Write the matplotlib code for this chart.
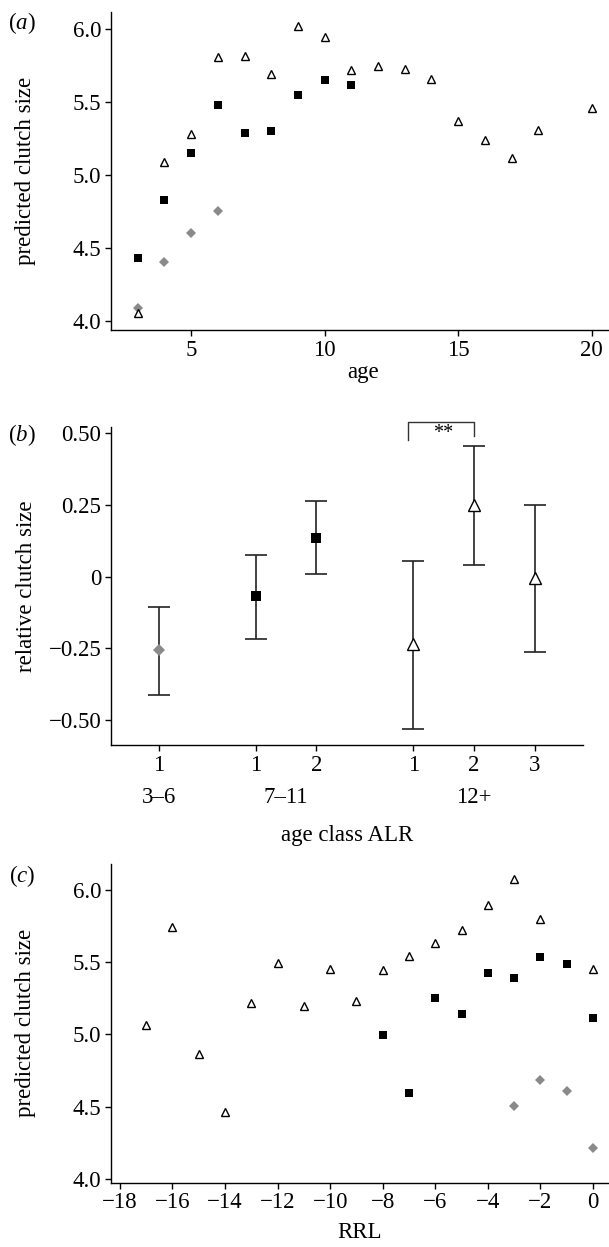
import numpy as np
import matplotlib
matplotlib.use("Agg")
import matplotlib.pyplot as plt

plt.rcParams['font.family'] = ['Liberation Serif', 'DejaVu Serif']
plt.rcParams['mathtext.fontset'] = 'custom'
plt.rcParams['mathtext.rm'] = 'Liberation Serif'
plt.rcParams['mathtext.it'] = 'Liberation Serif:italic'
plt.rcParams['axes.unicode_minus'] = True

# ---- data ----
# (a) predicted clutch size by age
age_tri = [3, 4, 5, 6, 7, 8, 9, 10, 11, 12, 13, 14, 15, 16, 17, 18, 20]
clutch_tri = [4.05, 5.09, 5.28, 5.81, 5.82, 5.69, 6.02, 5.95, 5.72, 5.75, 5.73, 5.66, 5.37, 5.24, 5.12, 5.31, 5.46]
age_sq = [3, 4, 5, 6, 7, 8, 9, 10, 11]
clutch_sq = [4.43, 4.83, 5.15, 5.48, 5.29, 5.30, 5.55, 5.65, 5.62]
age_dia = [3, 4, 5, 6]
clutch_dia = [4.09, 4.40, 4.60, 4.75]

# (b) relative clutch size by age class and ALR
alr_labels = ['1', '1', '2', '1', '2', '3']
alr_pos = [1, 2.6, 3.6, 5.2, 6.2, 7.2]
group_labels = ['3–6', '7–11', '12+']
group_pos = [1, 3.1, 6.2]
rel_mean = [-0.257, -0.069, 0.135, -0.234, 0.25, -0.005]
rel_low = [-0.412, -0.216, 0.010, -0.530, 0.041, -0.263]
rel_high = [-0.105, 0.077, 0.264, 0.056, 0.455, 0.249]
rel_kind = ['dia', 'sq', 'sq', 'tri', 'tri', 'tri']

# (c) predicted clutch size by RRL
rrl_tri = [-17, -16, -15, -14, -13, -12, -11, -10, -9, -8, -7, -6, -5, -4, -3, -2, 0]
rrl_clutch_tri = [5.067, 5.745, 4.868, 4.465, 5.22, 5.495, 5.197, 5.454, 5.234, 5.447, 5.542, 5.63, 5.725, 5.894, 6.076, 5.796, 5.454]
rrl_sq = [-8, -7, -6, -5, -4, -3, -2, -1, 0]
rrl_clutch_sq = [4.993, 4.597, 5.25, 5.139, 5.426, 5.389, 5.535, 5.491, 5.116]
rrl_dia = [-3, -2, -1, 0]
rrl_clutch_dia = [4.505, 4.685, 4.606, 4.215]

GREY = '#8a8a8a'
FS = 16.5
W, H = 609, 1247

fig = plt.figure(figsize=(W / 100, H / 100), dpi=100)


def px_axes(left, right, top, bottom):
    return fig.add_axes([left / W, 1 - bottom / H, (right - left) / W, (bottom - top) / H])


def style(ax):
    for s in ['top', 'right']:
        ax.spines[s].set_visible(False)
    for s in ['left', 'bottom']:
        ax.spines[s].set_linewidth(1.0)
    ax.tick_params(direction='out', length=4, width=1, labelsize=FS, pad=3)


def scatter3(ax, xt, yt, xs, ys, xd, yd, ms=6.0):
    ax.plot(xd, yd, 'D', color=GREY, ms=ms * 0.8, mew=0, zorder=2)
    ax.plot(xs, ys, 's', color='black', ms=ms * 0.95, mew=0, zorder=3)
    ax.plot(xt, yt, '^', mfc='white', mec='black', ms=ms, mew=1.0, zorder=4)


# ---- panel a ----
ax1 = px_axes(111, 609, 11.7, 330)
style(ax1)
scatter3(ax1, age_tri, clutch_tri, age_sq, clutch_sq, age_dia, clutch_dia)
ax1.set_xlim(2.0, 20.65)
ax1.set_ylim(3.936, 6.121)
ax1.set_xticks([5, 10, 15, 20])
ax1.set_yticks([4.0, 4.5, 5.0, 5.5, 6.0])
ax1.set_yticklabels(['4.0', '4.5', '5.0', '5.5', '6.0'])
fig.text(363 / W, 1 - 373 / H, 'age', ha='center', va='center', fontsize=FS)
fig.text(26 / W, 1 - 171 / H, 'predicted clutch size', rotation=90, ha='center', va='center', fontsize=FS)
fig.text(21.7 / W, 1 - 23.3 / H, r'($\it{a}$)', ha='center', va='center', fontsize=FS)

# ---- panel b ----
ax2 = px_axes(111, 583, 426.7, 745)
style(ax2)
for x, m, lo, hi, k in zip(alr_pos, rel_mean, rel_low, rel_high, rel_kind):
    if k == 'dia':
        fmt = dict(marker='D', color=GREY, ms=6.5, mew=0)
    elif k == 'sq':
        fmt = dict(marker='s', color='black', ms=7.5, mew=0)
    else:
        fmt = dict(marker='^', mfc='white', mec='black', ms=8.5, mew=1.0)
    ax2.errorbar([x], [m], yerr=[[m - lo], [hi - m]], fmt='none', ecolor='#222222',
                 elinewidth=1.2, capsize=8, capthick=1.2, zorder=2)
    ax2.plot([x], [m], linestyle='none', zorder=3, **fmt)
ax2.set_xlim(0.208, 8.0)
ax2.set_ylim(-0.587, 0.523)
ax2.set_xticks(alr_pos)
ax2.set_xticklabels(alr_labels)
ax2.set_yticks([-0.5, -0.25, 0, 0.25, 0.5])
ax2.set_yticklabels(['\u22120.50', '\u22120.25', '0', '0.25', '0.50'])
for gx, gl in zip(group_pos, group_labels):
    ax2.text(gx, -0.587 - (798 - 745) / 286.8, gl, ha='center', va='center', fontsize=FS)
ax2.plot([5.114, 5.114, 6.2, 6.2], [0.477, 0.540, 0.540, 0.49], color='#333333', lw=1.0,
         clip_on=False)
ax2.text(5.686, 0.501, '**', ha='center', va='center', fontsize=FS - 2)
fig.text(347 / W, 1 - 836 / H, 'age class ALR', ha='center', va='center', fontsize=FS)
fig.text(26 / W, 1 - 586 / H, 'relative clutch size', rotation=90, ha='center', va='center', fontsize=FS)
fig.text(21.7 / W, 1 - 435 / H, r'($\it{b}$)', ha='center', va='center', fontsize=FS)

# ---- panel c ----
ax3 = px_axes(111, 609, 864, 1182.7)
style(ax3)
scatter3(ax3, rrl_tri, rrl_clutch_tri, rrl_sq, rrl_clutch_sq, rrl_dia, rrl_clutch_dia)
ax3.set_xlim(-18.34, 0.61)
ax3.set_ylim(3.974, 6.18)
ax3.set_xticks(np.arange(-18, 1, 2))
ax3.set_yticks([4.0, 4.5, 5.0, 5.5, 6.0])
ax3.set_yticklabels(['4.0', '4.5', '5.0', '5.5', '6.0'])
fig.text(360 / W, 1 - 1232 / H, 'RRL', ha='center', va='center', fontsize=FS)
fig.text(26 / W, 1 - 1023 / H, 'predicted clutch size', rotation=90, ha='center', va='center', fontsize=FS)
fig.text(21.7 / W, 1 - 876 / H, r'($\it{c}$)', ha='center', va='center', fontsize=FS)

fig.savefig('out.png', dpi=100)
